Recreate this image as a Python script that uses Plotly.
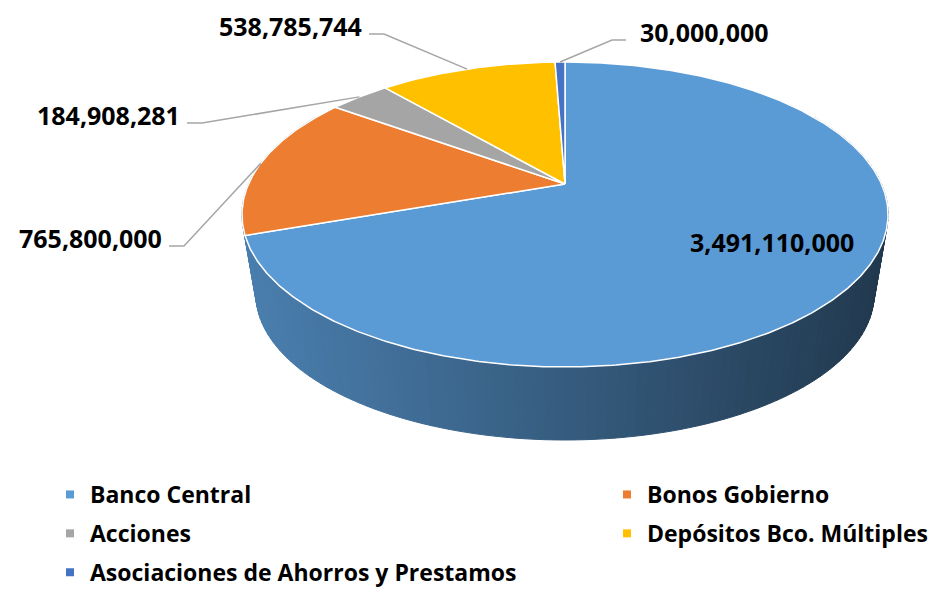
import numpy as np
import plotly.graph_objects as go

# ---------------- data ----------------
categories = ["Banco Central", "Bonos Gobierno", "Acciones",
              "Depósitos Bco. Múltiples", "Asociaciones de Ahorros y Prestamos"]
values = [3491110000, 765800000, 184908281, 538785744, 30000000]

# ---------------- styles / layout ----------------
colors = ["#5B9BD5", "#ED7D31", "#A5A5A5", "#FFC000", "#4472C4"]
legend_column = ["legend", "legend2", "legend", "legend2", "legend"]
# label placement: (x, y, anchor) in pixel space
label_pos = [(772, 242, "center"), (164, 238, "right"), (182, 115, "right"),
             (364, 26, "right"), (638, 32, "left")]

W, H = 948, 594
CX, CY = 565, 184            # projected centre of the pie
A, B, K = 316.5, 146.4, 0.2  # ellipse radii + perspective factor
DEPTH = 73                   # wall height at the front
S_BOT = 0.957                # bottom rim shrink (vertical perspective)
FONT = "Open Sans"


def rim(theta_deg):
    t = np.radians(theta_deg)
    u, v = np.sin(t), np.cos(t)
    den = 1 + K * v
    return CX + A * u / den, CY - B * v / den


_yft = rim(180.0)[1]
YV = (_yft + DEPTH - S_BOT * _yft) / (1 - S_BOT)


def rim_bottom(theta_deg):
    x, y = rim(theta_deg)
    return CX + S_BOT * (x - CX), YV + S_BOT * (y - YV)


def shade(hex_color, f):
    h = hex_color.lstrip("#")
    r, g, b = (int(h[i:i + 2], 16) for i in (0, 2, 4))
    return f"rgb({int(r * f)},{int(g * f)},{int(b * f)})"


total = float(sum(values))
fracs = [v / total for v in values]
starts = np.concatenate([[0], np.cumsum(fracs)[:-1]]) * 360
ends = np.cumsum(fracs) * 360

fig = go.Figure()

# ---------------- side wall of the front slice (drawn back to front) ----------------
step = 1.5
edges = np.arange(60, 300 + step, step)
strips = []
for t0, t1 in zip(edges[:-1], edges[1:]):
    tm = 0.5 * (t0 + t1)
    strips.append((np.cos(np.radians(tm)), t0, t1))
strips.sort(key=lambda s: -s[0])
x_min, x_max = CX - A * 1.02, CX + A * 1.02
for _, t0, t1 in strips:
    xa, ya = rim(t0)
    xb, yb = rim(t1)
    xc, yc = rim_bottom(t1)
    xd, yd = rim_bottom(t0)
    xm = 0.5 * (xa + xb)
    f = 0.82 - 0.45 * np.clip((xm - x_min) / (x_max - x_min), 0, 1)
    c = shade(colors[0], f)
    fig.add_trace(go.Scatter(
        x=[xa, xb, xc, xd, xa], y=[ya, yb, yc, yd, ya],
        mode="lines", fill="toself", fillcolor=c, line=dict(color=c, width=1),
        hoverinfo="skip", showlegend=False))

# ---------------- top face slices ----------------
for i, cat in enumerate(categories):
    n = max(int((ends[i] - starts[i]) * 2), 4)
    th = np.linspace(starts[i], ends[i], n)
    xs, ys = rim(th)
    fig.add_trace(go.Scatter(
        x=np.concatenate([[CX], xs, [CX]]), y=np.concatenate([[CY], ys, [CY]]),
        mode="lines", fill="toself", fillcolor=colors[i],
        line=dict(color="white", width=1.5),
        name=cat, hoverinfo="name", showlegend=False))

# ---------------- labels + leader lines ----------------
for i, v in enumerate(values):
    lx, ly, anchor = label_pos[i]
    fig.add_annotation(x=lx, y=ly, xref="x", yref="y", text=f"<b>{v:,}</b>",
                       showarrow=False, xanchor=anchor, yanchor="middle",
                       font=dict(family=FONT, size=25, color="black"))
    if anchor == "center":
        continue
    mid = 0.5 * (starts[i] + ends[i])
    rx, ry = rim(mid)
    yl = ly + 8
    if anchor == "right":
        xa, xb = lx + 5, lx + 20
    else:
        xa, xb = lx - 12, lx - 26
    fig.add_trace(go.Scatter(x=[xa, xb, rx], y=[yl, yl, ry], mode="lines",
                             line=dict(color="#A6A6A6", width=1.5),
                             hoverinfo="skip", showlegend=False))

# ---------------- legend entries ----------------
for i, cat in enumerate(categories):
    fig.add_trace(go.Scatter(
        x=[None], y=[None], mode="markers", name=cat,
        marker=dict(symbol="square", size=8, color=colors[i]),
        legend=legend_column[i], legendgroup=cat, showlegend=True))

leg_common = dict(yanchor="top", xanchor="left", y=1 - 473 / H,
                  font=dict(family=FONT, size=23, color="black", weight="bold"),
                  tracegroupgap=6, bgcolor="rgba(0,0,0,0)",
                  itemclick=False, itemdoubleclick=False)

fig.update_layout(
    width=W, height=H,
    margin=dict(l=0, r=0, t=0, b=0, autoexpand=False),
    paper_bgcolor="white", plot_bgcolor="white",
    xaxis=dict(range=[0, W], visible=False, fixedrange=True),
    yaxis=dict(range=[H, 0], visible=False, fixedrange=True),
    legend=dict(x=50 / W, **leg_common),
    legend2=dict(x=607 / W, **leg_common),
    showlegend=True,
)

fig.write_html("out.html",
               config={"displayModeBar": False},
               post_script="document.body.style.margin='0px';"
                           "document.body.style.overflow='hidden';")
